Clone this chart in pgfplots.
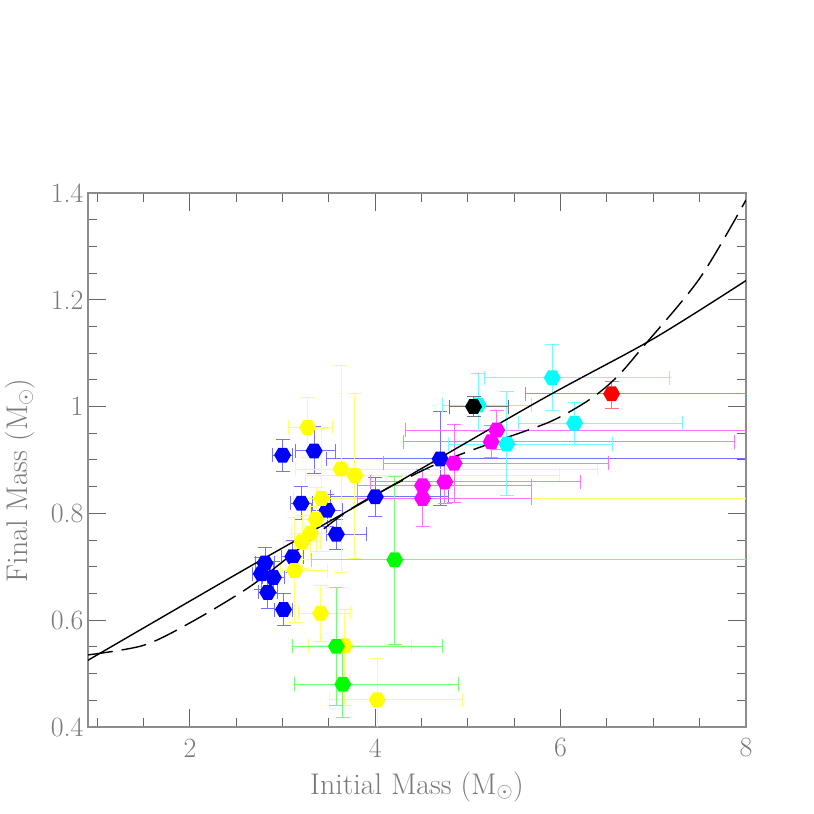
\documentclass[border=0pt]{standalone}
\usepackage{fontspec}
\usepackage{pgfplots}
\pgfplotsset{compat=1.18}
\definecolor{axgray}{gray}{0.55}
\definecolor{tickgray}{gray}{0.4}
\definecolor{txtgray}{gray}{0.48}
\definecolor{pblue}{RGB}{0,0,255}
\definecolor{pyellow}{RGB}{255,255,0}
\definecolor{pgreen}{RGB}{0,255,0}
\definecolor{pmagenta}{RGB}{255,0,255}
\definecolor{pcyan}{RGB}{0,255,255}
\definecolor{pred}{RGB}{255,0,0}
\definecolor{pblack}{RGB}{0,0,0}
\pgfdeclareplotmark{hex}{%
  \pgfpathmoveto{\pgfpoint{\pgfplotmarksize}{0pt}}%
  \pgfpathlineto{\pgfpoint{0.5\pgfplotmarksize}{0.866\pgfplotmarksize}}%
  \pgfpathlineto{\pgfpoint{-0.5\pgfplotmarksize}{0.866\pgfplotmarksize}}%
  \pgfpathlineto{\pgfpoint{-\pgfplotmarksize}{0pt}}%
  \pgfpathlineto{\pgfpoint{-0.5\pgfplotmarksize}{-0.866\pgfplotmarksize}}%
  \pgfpathlineto{\pgfpoint{0.5\pgfplotmarksize}{-0.866\pgfplotmarksize}}%
  \pgfpathclose
  \pgfusepathqfill
}
\pgfplotsset{
  wd/.style={only marks, mark=hex, mark size=8.5bp, color=#1,
    error bars/.cd, x dir=both, x explicit, y dir=both, y explicit,
    error bar style={color=#1!55!white, line width=0.9bp},
    error mark options={rotate=90, color=#1!55!white, mark size=7bp, line width=0.9bp}},
}
\begin{document}
\begin{tikzpicture}
\path[use as bounding box] (0,0) rectangle (814bp,814bp);
\begin{axis}[
  at={(88bp,87bp)}, anchor=south west,
  scale only axis, width=658bp, height=534bp,
  xmin=0.9, xmax=8, ymin=0.4, ymax=1.4,
  xtick={2,4,6,8},
  minor xtick={1,1.5,2.5,3,3.5,4.5,5,5.5,6.5,7,7.5},
  ytick={0.4,0.6,0.8,1,1.2,1.4},
  minor ytick={0.45,0.5,0.55,0.65,0.7,0.75,0.85,0.9,0.95,1.05,1.1,1.15,1.25,1.3,1.35},
  tick align=inside,
  major tick length=18bp, minor tick length=9bp,
  every tick/.style={color=tickgray, line width=1bp},
  axis line style={axgray, line width=1.2bp},
  /pgf/number format/assume math mode=true,
  ticklabel style={font=\fontsize{28}{32}\selectfont, text=txtgray},
  xticklabel style={anchor=center, yshift=-21bp},
  yticklabel style={anchor=east, xshift=-1bp},
  label style={font=\fontsize{30}{34}\selectfont, text=txtgray},
  xlabel={Initial Mass (M$_\odot$)},
  ylabel={Final Mass (M$_\odot$)},
  xlabel style={at={(axis description cs:0.5,-0.112)}, anchor=center},
  ylabel style={at={(axis description cs:-0.103,0.462)}, anchor=center},
  clip=true,
]
% blue
\addplot[wd=pblue] coordinates {
 (3.00,0.909) += (0.11,0.030) -= (0.11,0.030)
 (3.34,0.917) += (0.23,0.045) -= (0.20,0.043)
 (3.20,0.819) += (0.12,0.031) -= (0.12,0.031)
 (3.48,0.806) += (0.17,0.030) -= (0.17,0.030)
 (3.58,0.761) += (0.32,0.028) -= (0.11,0.028)
 (4.00,0.831) += (0.79,0.037) -= (0.48,0.037)
 (4.70,0.902) += (3.50,0.088) -= (1.23,0.088)
 (2.81,0.707) += (0.10,0.030) -= (0.10,0.030)
 (2.77,0.687) += (0.10,0.030) -= (0.10,0.030)
 (2.90,0.680) += (0.12,0.030) -= (0.12,0.030)
 (2.84,0.652) += (0.10,0.030) -= (0.10,0.030)
 (3.01,0.620) += (0.10,0.030) -= (0.10,0.030)
 (3.11,0.719) += (0.12,0.030) -= (0.12,0.030)
};
% yellow
\addplot[wd=pyellow] coordinates {
 (3.27,0.961) += (0.27,0.056) -= (0.21,0.056)
 (3.63,0.883) += (2.77,0.194) -= (0.49,0.194)
 (3.78,0.871) += (2.21,0.153) -= (0.53,0.155)
 (3.42,0.828) += (4.80,0.132) -= (0.30,0.100)
 (3.36,0.789) += (0.15,0.060) -= (0.15,0.060)
 (3.30,0.763) += (0.20,0.050) -= (0.20,0.050)
 (3.21,0.747) += (0.20,0.050) -= (0.20,0.050)
 (3.13,0.693) += (0.35,0.100) -= (0.15,0.098)
 (3.41,0.613) += (0.32,0.053) -= (0.24,0.052)
 (3.67,0.552) += (0.72,0.069) -= (0.39,0.111)
 (4.02,0.451) += (0.92,0.078) -= (0.51,0.080)
};
% green
\addplot[wd=pgreen] coordinates {
 (4.21,0.713) += (4.00,0.156) -= (0.90,0.159)
 (3.58,0.551) += (1.15,0.110) -= (0.47,0.110)
 (3.65,0.480) += (1.25,0.070) -= (0.52,0.063)
};
% magenta
\addplot[wd=pmagenta] coordinates {
 (5.31,0.956) += (3.00,0.036) -= (0.98,0.036)
 (5.25,0.934) += (2.63,0.030) -= (0.95,0.030)
 (4.85,0.894) += (1.67,0.073) -= (0.76,0.073)
 (4.75,0.859) += (1.46,0.040) -= (0.80,0.040)
 (4.51,0.852) += (1.17,0.030) -= (0.70,0.030)
 (4.51,0.828) += (1.17,0.030) -= (0.70,0.053)
};
% cyan
\addplot[wd=pcyan] coordinates {
 (5.91,1.054) += (1.26,0.063) -= (0.73,0.062)
 (6.15,0.969) += (1.16,0.039) -= (0.60,0.039)
 (5.42,0.930) += (1.14,0.098) -= (0.63,0.097)
 (5.11,1.003) += (0.58,0.059) -= (0.39,0.050)
};
% black
\addplot[wd=pblack] coordinates {
 (5.06,1.000) += (0.38,0.019) -= (0.26,0.019)
};
% red
\addplot[wd=pred] coordinates {
 (6.55,1.024) += (2.00,0.024) -= (0.93,0.027)
};
% curves
\addplot[black, line width=1.4bp, smooth] coordinates {
 (0.9,0.525) (2.55,0.691) (3.91,0.825) (5.78,1.012) (7.0,1.127) (8.0,1.236)
};
\addplot[black, line width=1.4bp, smooth, dash pattern=on 25bp off 9bp] coordinates {
 (0.9,0.535) (1.5,0.553) (2.0,0.595) (2.64,0.662) (3.15,0.730) (3.75,0.810)
 (4.59,0.887) (5.24,0.931) (5.89,0.972) (6.32,1.014) (6.61,1.056) (6.89,1.112)
 (7.5,1.24) (8.0,1.387)
};
\end{axis}
\end{tikzpicture}
\end{document}
